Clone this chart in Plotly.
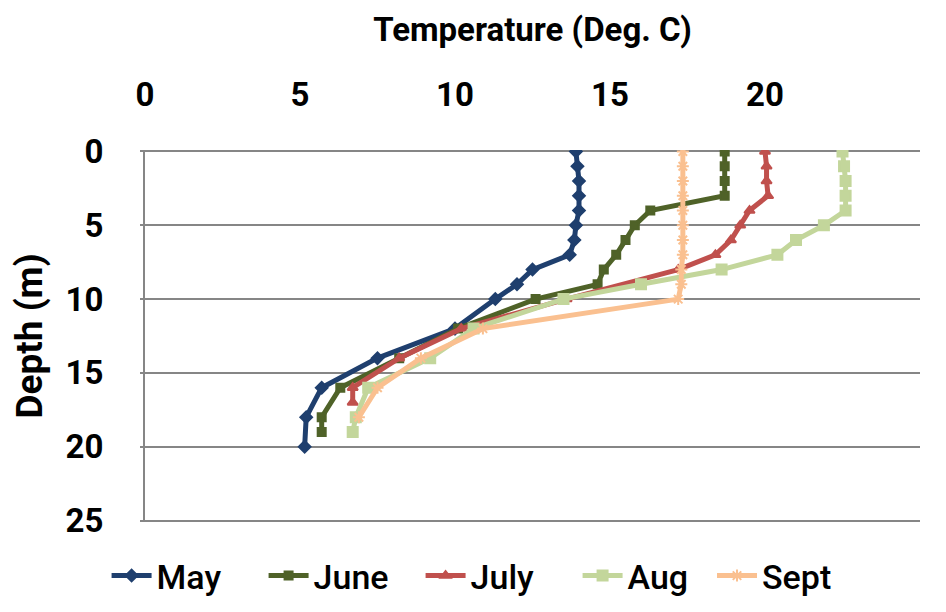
import plotly.graph_objects as go

months = ["May", "June", "July", "Aug", "Sept"]

may_depth = [0, 1, 2, 3, 4, 5, 6, 7, 8, 9, 10, 12, 14, 16, 18, 20]
may_temp = [13.9, 13.95, 14.0, 14.0, 14.0, 13.9, 13.85, 13.7, 12.5, 12.0, 11.3, 10.0, 7.5, 5.7, 5.2, 5.15]

june_depth = [0, 1, 2, 3, 4, 5, 6, 7, 8, 9, 10, 12, 14, 16, 18, 19]
june_temp = [18.7, 18.7, 18.7, 18.7, 16.3, 15.8, 15.5, 15.2, 14.8, 14.6, 12.6, 10.1, 8.2, 6.3, 5.7, 5.7]

july_depth = [0, 1, 2, 3, 4, 5, 6, 7, 8, 10, 12, 14, 16, 17]
july_temp = [20.0, 20.05, 20.05, 20.1, 19.5, 19.2, 18.9, 18.4, 17.2, 13.6, 10.2, 8.2, 6.7, 6.7]

aug_depth = [0, 1, 2, 3, 4, 5, 6, 7, 8, 9, 10, 12, 14, 16, 18, 19]
aug_temp = [22.5, 22.55, 22.6, 22.6, 22.6, 21.9, 21.0, 20.4, 18.6, 16.0, 13.5, 10.6, 9.2, 7.2, 6.8, 6.7]

sept_depth = [0, 1, 2, 3, 4, 5, 6, 7, 8, 9, 10, 12, 14, 16, 18]
sept_temp = [17.35, 17.35, 17.35, 17.35, 17.35, 17.35, 17.35, 17.35, 17.3, 17.3, 17.2, 10.9, 8.9, 7.5, 6.9]

x_ticks = [0, 5, 10, 15, 20, 25]
y_ticks = [0, 5, 10, 15, 20, 25]

series = [
    (may_temp, may_depth, "#1F3F6E", "diamond", 9, "legend"),
    (june_temp, june_depth, "#4F6228", "square", 8, "legend"),
    (july_temp, july_depth, "#C0504D", "triangle-up", 9, "legend"),
    (aug_temp, aug_depth, "#C3D69B", "square", 10, "legend"),
    (sept_temp, sept_depth, "#FAC090", "asterisk-open", 10, "legend2"),
]

font_family = "Roboto, Liberation Sans, sans-serif"

fig = go.Figure()
for name, (xs, ys, color, sym, size, leg) in zip(months, series):
    fig.add_trace(go.Scatter(
        x=xs, y=ys, name=name, mode="lines+markers", legend=leg,
        line=dict(color=color, width=5),
        marker=dict(symbol=sym, size=size, color=color,
                    line=dict(color=color, width=2)),
    ))

legend_font = dict(family=font_family, size=34, color="black", weight=500)

fig.update_layout(
    width=930, height=596,
    paper_bgcolor="white", plot_bgcolor="white",
    margin=dict(l=137, r=18, t=142, b=82),
    font=dict(family=font_family, size=32, color="black"),
    showlegend=True,
    legend=dict(orientation="h", xref="container", x=0.106, xanchor="left",
                yref="container", y=0.047, yanchor="middle",
                font=legend_font, entrywidth=102, itemwidth=40, tracegroupgap=0),
    legend2=dict(orientation="h", xref="container", x=0.757, xanchor="left",
                 yref="container", y=0.047, yanchor="middle",
                 font=legend_font, itemwidth=40, tracegroupgap=0),
    xaxis=dict(side="top", range=[0, 25], tickvals=x_ticks, showgrid=False,
               zeroline=False, showline=False, ticks="", automargin=False,
               ticklabelstandoff=36,
               tickfont=dict(family=font_family, size=33, weight="bold"),
               title=dict(text="Temperature (Deg. C)", standoff=23,
                          font=dict(family=font_family, size=33, weight="bold"))),
    yaxis=dict(range=[25.1, -0.1], tickvals=y_ticks, showgrid=True,
               gridcolor="#868686", gridwidth=2, zeroline=False,
               showline=True, linecolor="#868686", linewidth=2,
               ticks="outside", ticklen=3, tickcolor="#868686", tickwidth=2,
               ticklabelstandoff=30, automargin=False,
               tickfont=dict(family=font_family, size=33, weight="bold"),
               title=dict(text="Depth (m)", standoff=16,
                          font=dict(family=font_family, size=37, weight="bold"))),
)

fig.write_html("out.html")
